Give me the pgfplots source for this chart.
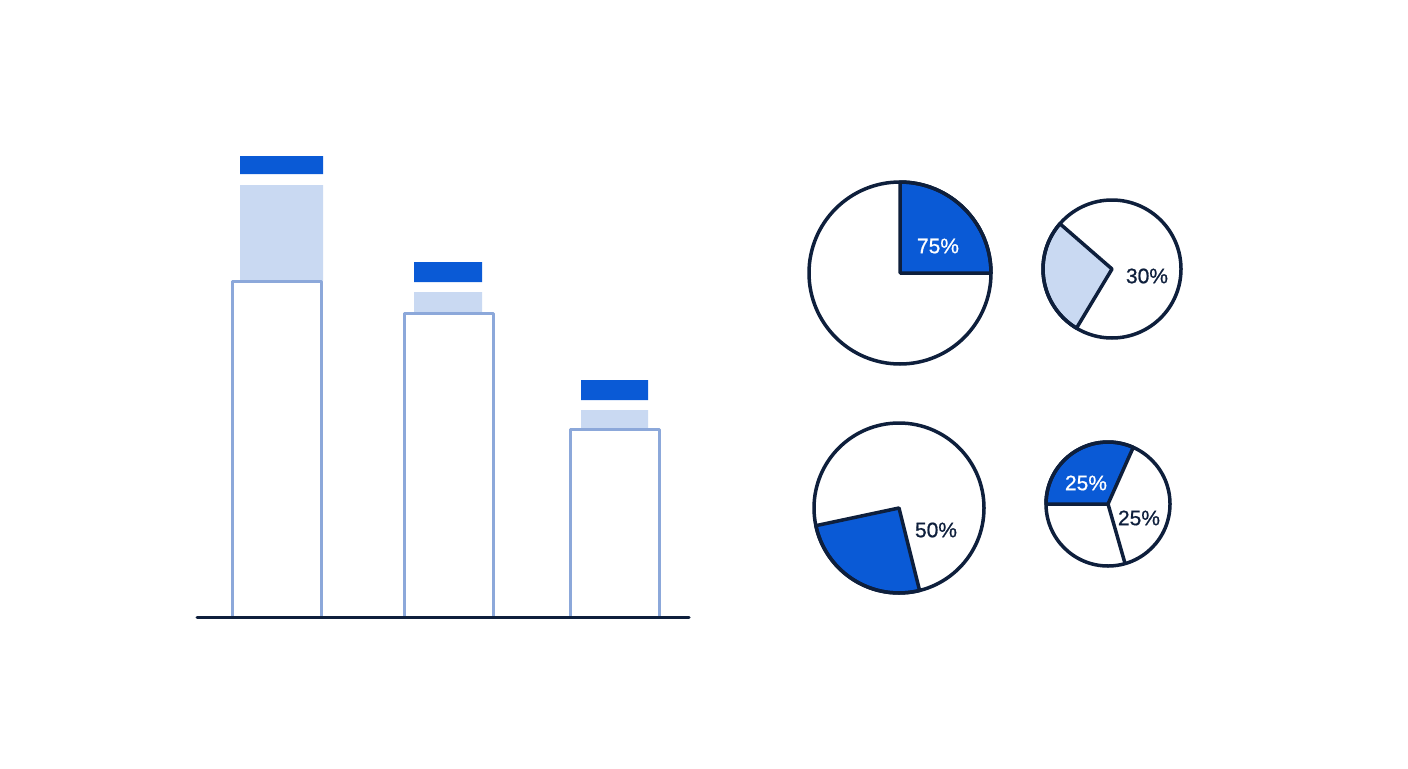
\documentclass[border=0pt]{standalone}
\usepackage{pgfplots}
\pgfplotsset{compat=1.18}
\usepackage{fontspec}
\setmainfont{Liberation Sans}[AutoFakeBold=0.8]

\definecolor{capblue}{HTML}{0A5AD6}
\definecolor{lightblue}{HTML}{C9D9F2}
\definecolor{outline}{HTML}{8CA8DA}
\definecolor{navy}{HTML}{0E1F3C}

% one pie wedge: centre x, centre y, radius (px), start angle, end angle, fill
\newcommand{\piewedge}[6]{%
  \filldraw[fill=#6, draw=navy, line width=1.75pt, line join=round]
    (axis cs:#1,#2) -- ++(#4:#3*0.5pt) arc[start angle=#4, end angle=#5, radius=#3*0.5pt] -- cycle;}
\newcommand{\pieframe}[3]{%
  \draw[navy, line width=1.75pt] (axis cs:#1,#2) circle[radius=#3*0.5pt];}

\begin{document}
\begin{tikzpicture}[every node/.style={font=\fontsize{10.5}{12}\selectfont\bfseries}]
\begin{axis}[
  x=0.5pt, y=0.5pt,
  xmin=0, xmax=1408, ymin=0, ymax=768,
  enlargelimits=false,
  hide axis,
  clip=false,
]
\path (axis cs:0,0) rectangle (axis cs:1408,768);

% light blocks
\addplot[fill=lightblue, draw=none] coordinates {(240,487) (323,487) (323,583) (240,583) (240,487)};
\addplot[fill=lightblue, draw=none] coordinates {(414,455) (482,455) (482,476) (414,476) (414,455)};
\addplot[fill=lightblue, draw=none] coordinates {(581,339) (648,339) (648,358) (581,358) (581,339)};

% caps
\addplot[fill=capblue, draw=none] coordinates {(240,594) (323,594) (323,612) (240,612) (240,594)};
\addplot[fill=capblue, draw=none] coordinates {(414,486) (482,486) (482,506) (414,506) (414,486)};
\addplot[fill=capblue, draw=none] coordinates {(581,368) (648,368) (648,388) (581,388) (581,368)};

% outlined bars
\addplot[fill=white, draw=outline, line width=1.5pt, line join=round] coordinates {(232,151) (232,487) (321,487) (321,151)};
\addplot[fill=white, draw=outline, line width=1.5pt, line join=round] coordinates {(404,151) (404,455) (493,455) (493,151)};
\addplot[fill=white, draw=outline, line width=1.5pt, line join=round] coordinates {(570,151) (570,339) (659,339) (659,151)};

% baseline
\addplot[navy, line width=1.5pt, line cap=round] coordinates {(197,151) (689,151)};

% pies
\fill[white] (axis cs:900,495) circle[radius=45.5pt];
\piewedge{900}{495}{91}{0}{90}{capblue}
\pieframe{900}{495}{91}
\node[white] at (axis cs:938,522) {75\%};

\fill[white] (axis cs:1112,499) circle[radius=34.5pt];
\piewedge{1112}{499}{69}{139}{239}{lightblue}
\pieframe{1112}{499}{69}
\node[navy] at (axis cs:1147,492) {30\%};

\piewedge{899}{260}{85}{192}{284}{capblue}
\pieframe{899}{260}{85}
\node[navy] at (axis cs:936,238) {50\%};

\piewedge{1108}{264}{62}{66}{180}{capblue}
\draw[navy, line width=1.75pt] (axis cs:1108,264) -- ++(286:31pt);
\pieframe{1108}{264}{62}
\node[white] at (axis cs:1086,285) {25\%};
\node[navy] at (axis cs:1139,250) {25\%};
\end{axis}
\end{tikzpicture}
\end{document}
